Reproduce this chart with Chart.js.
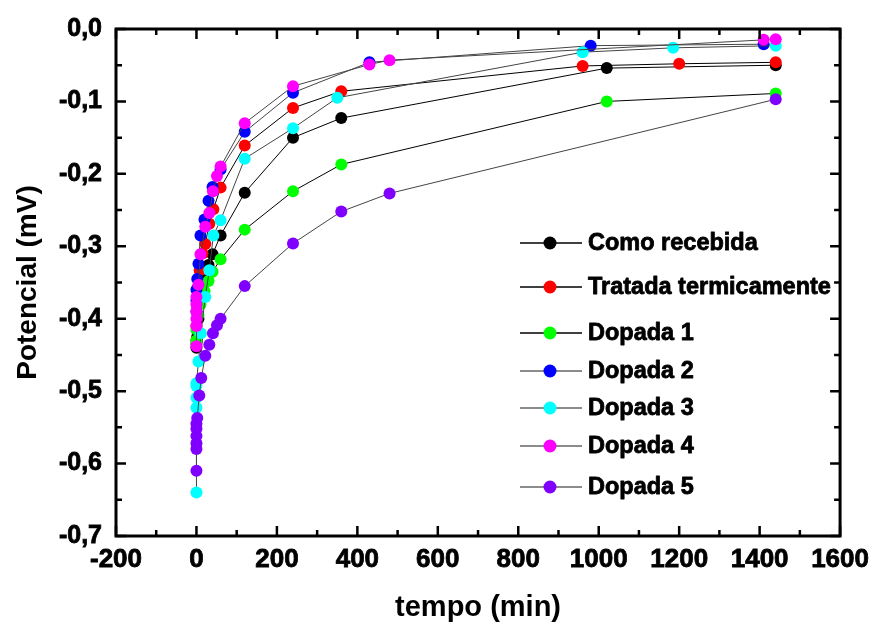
<!DOCTYPE html>
<html>
<head>
<meta charset="utf-8">
<script src="https://cdn.jsdelivr.net/npm/chart.js@4"></script>
<style>
  body { margin: 0; background: #fff; }
  #wrap { width: 877px; height: 625px; }
</style>
</head>
<body>
<div id="wrap"><canvas id="c" width="877" height="625"></canvas></div>
<script>
// series: [tempo (min), potencial (mV)]
const comoRecebida = [[0,-0.44],[0,-0.435],[1,-0.43],[2,-0.425],[3,-0.418],[5,-0.40],[10,-0.37],[20,-0.347],[30,-0.326],[40,-0.311],[60,-0.285],[120,-0.226],[240,-0.150],[360,-0.123],[1020,-0.054],[1440,-0.050]];
const tratada = [[0,-0.43],[0,-0.41],[2,-0.38],[5,-0.355],[8,-0.333],[15,-0.31],[22,-0.297],[32,-0.269],[42,-0.249],[60,-0.219],[120,-0.161],[240,-0.109],[360,-0.086],[960,-0.051],[1200,-0.048],[1440,-0.046]];
const dopada1 = [[0,-0.43],[0,-0.415],[5,-0.395],[10,-0.38],[20,-0.362],[30,-0.348],[40,-0.335],[60,-0.318],[120,-0.277],[240,-0.224],[360,-0.187],[1020,-0.100],[1440,-0.089]];
const dopada2 = [[0,-0.39],[0,-0.375],[0,-0.36],[2,-0.345],[5,-0.324],[10,-0.285],[20,-0.263],[30,-0.237],[40,-0.218],[60,-0.194],[120,-0.142],[240,-0.088],[430,-0.046],[980,-0.023],[1410,-0.021]];
const dopada3 = [[0,-0.64],[0,-0.523],[0,-0.509],[0,-0.493],[0,-0.489],[5,-0.459],[11,-0.42],[22,-0.37],[32,-0.333],[42,-0.285],[60,-0.264],[120,-0.179],[240,-0.137],[350,-0.095],[960,-0.032],[1185,-0.026],[1440,-0.023]];
const dopada4 = [[0,-0.438],[0,-0.41],[0,-0.40],[0,-0.39],[0,-0.38],[0,-0.37],[5,-0.353],[10,-0.311],[22,-0.273],[32,-0.254],[41,-0.224],[51,-0.203],[60,-0.190],[120,-0.130],[240,-0.079],[430,-0.049],[480,-0.043],[1410,-0.015],[1440,-0.014]];
const dopada5 = [[0,-0.61],[0,-0.58],[0,-0.572],[0,-0.562],[0,-0.552],[0,-0.545],[2,-0.537],[7,-0.506],[12,-0.482],[22,-0.451],[32,-0.436],[41,-0.420],[51,-0.409],[60,-0.400],[120,-0.355],[240,-0.296],[360,-0.252],[480,-0.227],[1440,-0.097]];

const labels = ['Como recebida','Tratada termicamente','Dopada 1','Dopada 2','Dopada 3','Dopada 4','Dopada 5'];
const series = [comoRecebida, tratada, dopada1, dopada2, dopada3, dopada4, dopada5];
const colors = ['#000000','#ff0000','#00ff00','#0000ff','#00ffff','#ff00ff','#8000ff'];
const lineColors = ['#000000','#000000','#000000','#444444','#444444','#444444','#444444'];
const legendColors = ['#000000','#000000','#000000','#666666','#666666','#666666','#666666'];
const legendRows = [243, 287, 333, 371, 408, 446, 487];

const FONT = '"Liberation Sans", Arial, sans-serif';

const frame = {
  id: 'frame',
  afterDraw(chart) {
    const { ctx, chartArea: a, scales: { x, y } } = chart;
    ctx.save();
    ctx.strokeStyle = '#000';
    ctx.lineWidth = 3;
    ctx.strokeRect(a.left, a.top, a.right - a.left, a.bottom - a.top);
    ctx.lineWidth = 2.5;
    ctx.beginPath();
    for (let v = -200; v <= 1600; v += 100) {
      const px = x.getPixelForValue(v);
      const len = v % 200 === 0 ? 10 : 6;
      ctx.moveTo(px, a.bottom); ctx.lineTo(px, a.bottom - len);
      ctx.moveTo(px, a.top); ctx.lineTo(px, a.top + len);
    }
    for (let i = 0; i <= 14; i++) {
      const py = y.getPixelForValue(-i * 0.05);
      const len = i % 2 === 0 ? 10 : 6;
      ctx.moveTo(a.left, py); ctx.lineTo(a.left + len, py);
      ctx.moveTo(a.right, py); ctx.lineTo(a.right - len, py);
    }
    ctx.stroke();

    // legend
    ctx.font = 'bold 23.5px ' + FONT;
    ctx.textBaseline = 'middle';
    ctx.textAlign = 'left';
    ctx.lineJoin = 'round';
    labels.forEach((lab, i) => {
      const yy = legendRows[i];
      ctx.strokeStyle = legendColors[i];
      ctx.lineWidth = 1.3;
      ctx.beginPath();
      ctx.moveTo(520, yy); ctx.lineTo(582, yy);
      ctx.stroke();
      ctx.fillStyle = colors[i];
      ctx.beginPath();
      ctx.arc(550, yy, 6.5, 0, Math.PI * 2);
      ctx.fill();
      ctx.fillStyle = '#000';
      ctx.strokeStyle = '#000';
      ctx.lineWidth = 0.8;
      ctx.fillText(lab, 588, yy + 1);
      ctx.strokeText(lab, 588, yy + 1);
    });
    ctx.restore();
  }
};

new Chart(document.getElementById('c'), {
  type: 'scatter',
  data: {
    datasets: series.map((s, i) => ({
      label: labels[i],
      data: s.map(p => ({ x: p[0], y: p[1] })),
      showLine: true,
      borderColor: lineColors[i],
      borderWidth: 1,
      backgroundColor: colors[i],
      pointBackgroundColor: colors[i],
      pointBorderWidth: 0,
      pointRadius: 6,
      order: 6 - i,
    })),
  },
  options: {
    responsive: false,
    animation: false,
    layout: { padding: { left: 0, top: 24, right: 33, bottom: 0 } },
    plugins: { legend: { display: false }, tooltip: { enabled: false } },
    scales: {
      x: {
        type: 'linear', min: -200, max: 1600,
        grid: { display: false, drawTicks: false },
        border: { display: false },
        ticks: {
          stepSize: 200, padding: 8, color: '#000',
          textStrokeColor: '#000', textStrokeWidth: 0.8,
          font: { family: FONT, size: 26, weight: 'bold' },
          callback: v => String(v),
        },
        title: { display: true, text: 'tempo (min)', color: '#000', padding: { top: 0, bottom: 0 }, font: { family: FONT, size: 29, weight: 'bold' } },
        afterFit(s) { s.height = 89; },
      },
      y: {
        min: -0.7, max: 0,
        grid: { display: false, drawTicks: false },
        border: { display: false },
        ticks: {
          stepSize: 0.1, padding: 14, color: '#000',
          textStrokeColor: '#000', textStrokeWidth: 0.8,
          font: { family: FONT, size: 25, weight: 'bold' },
          callback: v => (Math.abs(v) < 1e-9 ? '0,0' : v.toFixed(1).replace('.', ',')),
        },
        title: { display: true, text: 'Potencial (mV)', color: '#000', padding: { top: 11, bottom: 0 }, font: { family: FONT, size: 28, weight: 'bold' } },
        afterFit(s) { s.width = 116; },
      },
    },
  },
  plugins: [frame],
});
</script>
</body>
</html>
